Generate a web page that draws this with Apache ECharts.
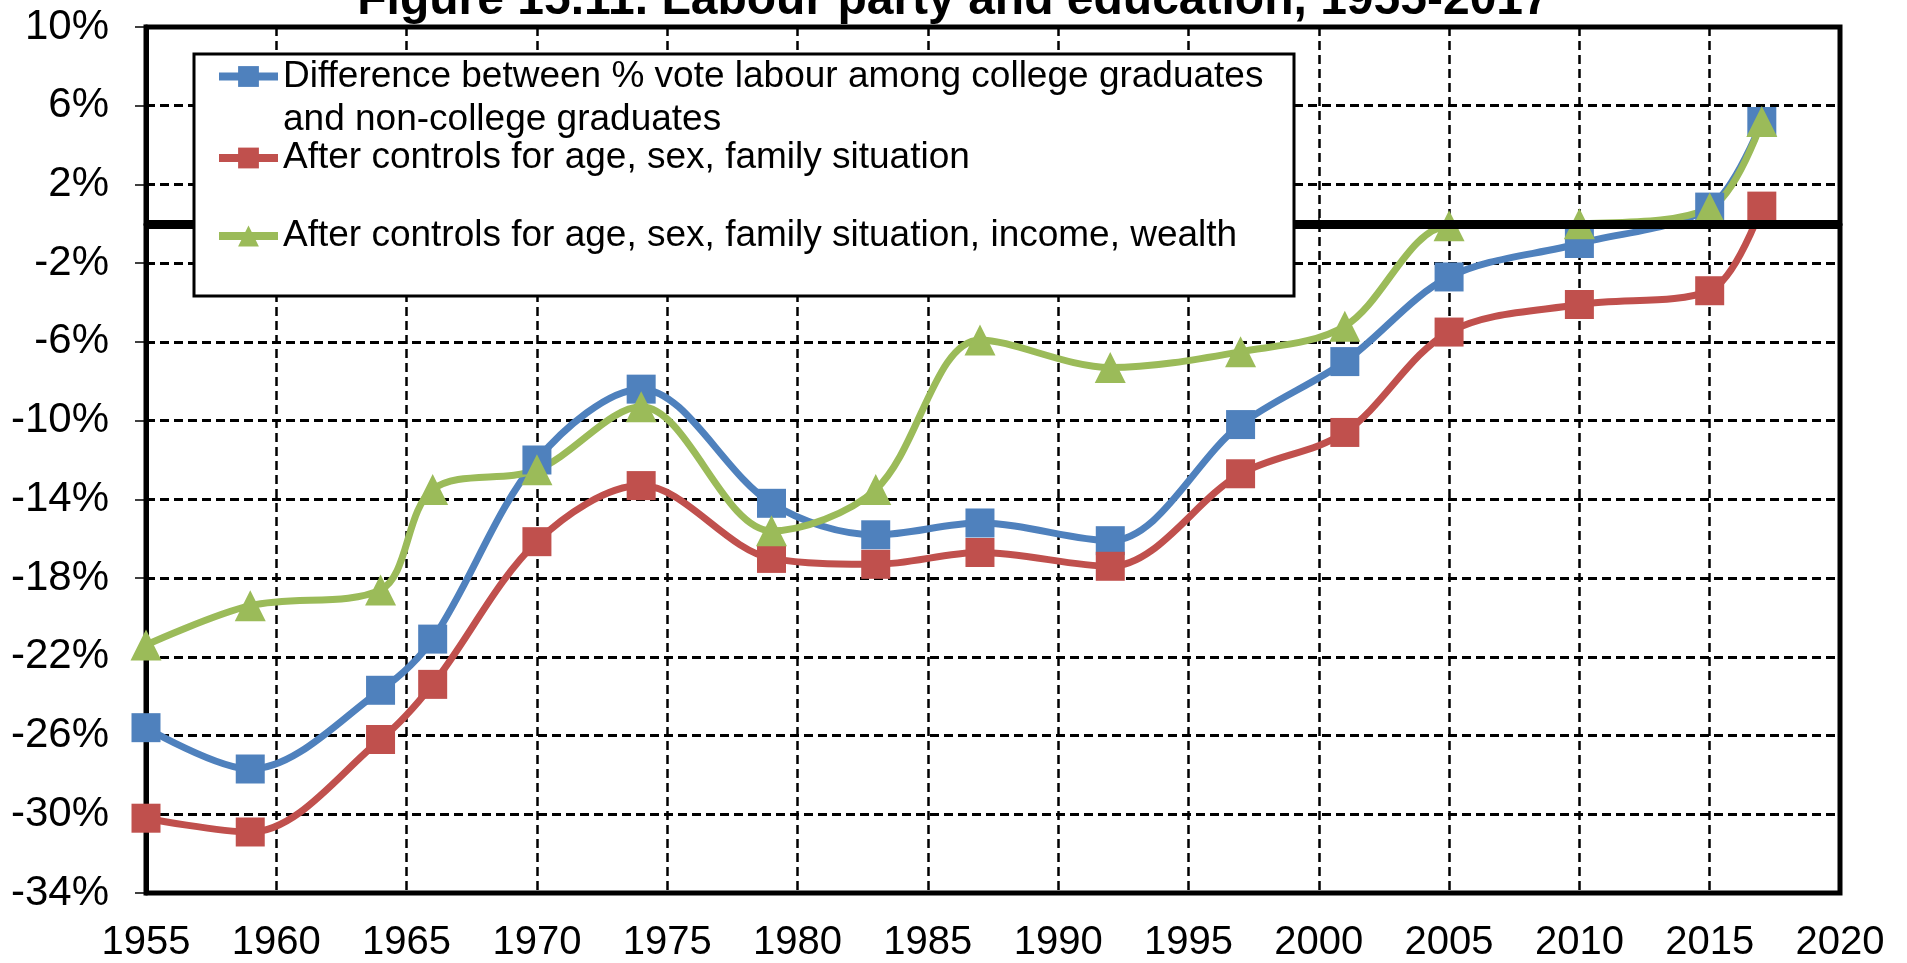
<!DOCTYPE html>
<html>
<head>
<meta charset="utf-8">
<script src="https://cdn.jsdelivr.net/npm/echarts@6/dist/echarts.min.js"></script>
<style>
html,body{margin:0;padding:0;background:#fff;}
#chart{width:1907px;height:963px;}
</style>
</head>
<body>
<div id="chart"></div>
<script>
const years = [1955,1959,1964,1966,1970,1974,1979,1983,1987,1992,1997,2001,2005,2010,2015,2017];
const diffRaw = [-25.6,-27.7,-23.7,-21.1,-12.0,-8.4,-14.2,-15.8,-15.2,-16.1,-10.2,-7.0,-2.7,-1.0,0.85,5.2];
const ctrlBasic = [-30.2,-30.9,-26.2,-23.4,-16.15,-13.3,-17.0,-17.3,-16.7,-17.4,-12.7,-10.6,-5.5,-4.1,-3.4,0.9];
const ctrlFull = [-21.4,-19.4,-18.6,-13.5,-12.5,-9.3,-15.6,-13.5,-5.9,-7.3,-6.5,-5.2,-0.1,0.0,0.8,5.2];
const seriesNames = [
  'Difference between % vote labour among college graduates\nand non-college graduates',
  'After controls for age, sex, family situation',
  'After controls for age, sex, family situation, income, wealth'
];
const titleText = 'Figure 15.11. Labour party and education, 1955-2017';

const FONT = '"Liberation Sans", Arial, sans-serif';
const pair = (arr) => years.map((y, i) => [y, arr[i]]);

const chart = echarts.init(document.getElementById('chart'), null, {renderer: 'canvas'});
const legendBase = {
  orient: 'vertical', left: 215, padding: 0, itemWidth: 59, itemHeight: 26, itemGap: 0,
  z: 200, selectedMode: false,
  lineStyle: {width: 8},
  textStyle: {fontFamily: FONT, fontSize: 37, color: '#000', lineHeight: 42}
};
chart.setOption({
  animation: false,
  backgroundColor: '#fff',
  title: {
    text: titleText, left: 'center', top: -28,
    textStyle: {fontFamily: FONT, fontSize: 48, fontWeight: 'bold', color: '#000'}
  },
  grid: {left: 146, right: 67, top: 27, bottom: 70, show: true, borderColor: '#000', borderWidth: 5},
  xAxis: {
    type: 'value', min: 1955, max: 2020, interval: 5,
    axisLine: {lineStyle: {color: '#000', width: 5}},
    axisTick: {inside: true, length: 6, lineStyle: {color: '#000', width: 1.5}},
    axisLabel: {fontFamily: FONT, fontSize: 40, color: '#000', margin: 30, formatter: v => String(v)},
    splitLine: {show: true, lineStyle: {color: '#000', width: 2.5, type: [9, 5]}}
  },
  yAxis: {
    type: 'value', min: -34, max: 10, interval: 4,
    axisLine: {lineStyle: {color: '#000', width: 5}},
    axisTick: {inside: false, length: 11, lineStyle: {color: '#000', width: 1.5}},
    axisLabel: {fontFamily: FONT, fontSize: 42, color: '#000', margin: 37, formatter: '{value}%'},
    splitLine: {show: true, lineStyle: {color: '#000', width: 3, type: [9, 5]}}
  },
  legend: [
    Object.assign({}, legendBase, {top: 12, data: [seriesNames[0]], formatter: n => ' \n' + n,
      textStyle: Object.assign({}, legendBase.textStyle, {lineHeight: 43})}),
    Object.assign({}, legendBase, {top: 137, data: [seriesNames[1]]}),
    Object.assign({}, legendBase, {top: 215, data: [seriesNames[2]]})
  ],
  graphic: [{
    type: 'rect', z: 100, silent: true,
    shape: {x: 194, y: 54, width: 1100, height: 242},
    style: {fill: '#fff', stroke: '#000', lineWidth: 3}
  }],
  series: [
    {name: seriesNames[0], type: 'line', data: pair(diffRaw), smooth: 0.33,
     symbol: 'rect', symbolSize: 29, color: '#4F81BD',
     lineStyle: {width: 7, color: '#4F81BD'}, itemStyle: {color: '#4F81BD'}},
    {name: seriesNames[1], type: 'line', data: pair(ctrlBasic), smooth: 0.33,
     symbol: 'rect', symbolSize: 29, color: '#C0504D',
     lineStyle: {width: 7, color: '#C0504D'}, itemStyle: {color: '#C0504D'}},
    {name: seriesNames[2], type: 'line', data: pair(ctrlFull), smooth: 0.33,
     symbol: 'triangle', symbolSize: 31, color: '#9BBB59',
     lineStyle: {width: 7, color: '#9BBB59'}, itemStyle: {color: '#9BBB59'}},
    {name: 'zero', type: 'line', data: [], z: 3, silent: true,
     markLine: {silent: true, symbol: ['none', 'none'], label: {show: false},
       lineStyle: {color: '#000', width: 9, type: 'solid'}, data: [{yAxis: 0}]}}
  ]
});
</script>
</body>
</html>
